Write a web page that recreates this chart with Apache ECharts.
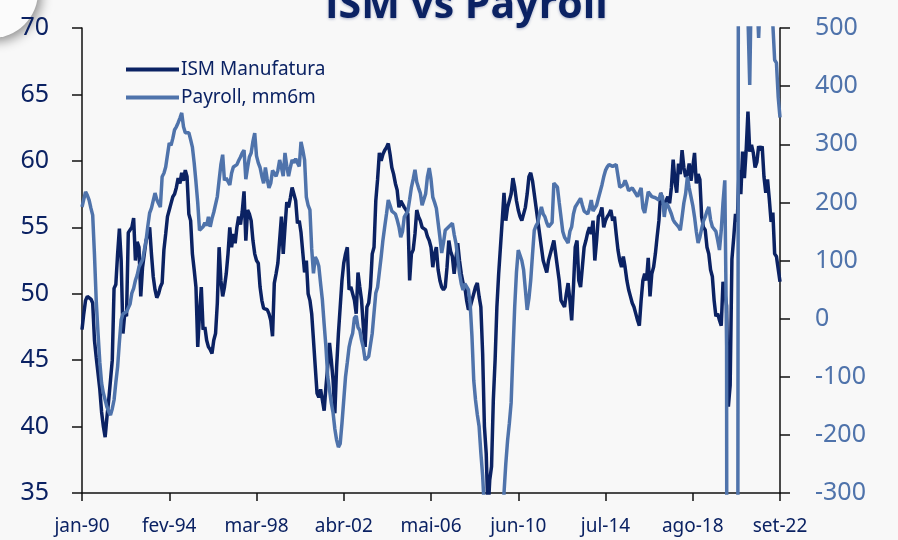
<!DOCTYPE html>
<html>
<head>
<meta charset="utf-8">
<script src="https://cdn.jsdelivr.net/npm/echarts@6/dist/echarts.min.js"></script>
<style>
  html, body { margin: 0; padding: 0; background: #f8f8f8; }
  #chart { width: 898px; height: 540px; }
</style>
</head>
<body>
<div id="chart"></div>
<script>
const firstYear = 1990;
const monthNames = ['jan', 'fev', 'mar', 'abr', 'mai', 'jun', 'jul', 'ago', 'set', 'out', 'nov', 'dez'];

// ISM manufacturing PMI, one row per year (jan..dez), 2022 ends in set
const ismByYear = [
  [47.3, 48.5, 49.5, 49.8, 49.8, 49.6, 49.3, 46.5, 45.2, 44.0, 42.8, 41.1],
  [40.0, 39.2, 40.7, 42.0, 43.5, 45.0, 50.4, 50.7, 53.0, 54.9, 52.5, 47.0],
  [48.5, 48.3, 54.6, 54.5, 55.0, 55.7, 52.5, 53.9, 53.5, 49.8, 52.0, 53.0],
  [54.0, 54.5, 55.0, 53.0, 51.3, 50.3, 49.7, 50.0, 50.5, 50.8, 53.3, 54.5],
  [55.8, 56.3, 56.8, 57.3, 57.5, 58.0, 58.7, 58.3, 59.1, 58.5, 59.3, 58.8],
  [56.0, 55.5, 53.0, 51.8, 50.5, 46.0, 48.5, 50.5, 47.3, 47.5, 46.5, 46.0],
  [45.8, 45.5, 46.5, 47.0, 49.3, 53.5, 51.0, 49.8, 50.5, 51.5, 53.0, 55.0],
  [53.5, 54.5, 53.8, 55.0, 55.8, 55.2, 56.2, 57.7, 54.0, 56.3, 56.0, 55.5],
  [54.0, 53.0, 52.5, 52.3, 50.5, 49.5, 48.9, 49.0, 48.8, 48.5, 48.0, 46.8],
  [50.8, 51.5, 52.3, 52.3, 55.8, 53.0, 55.0, 56.9, 56.5, 57.2, 58.0, 57.5],
  [57.0, 55.3, 55.5, 54.6, 54.5, 51.6, 52.5, 50.0, 49.5, 48.5, 46.5, 44.5],
  [42.5, 42.2, 42.8, 42.0, 41.2, 43.0, 44.5, 46.3, 45.0, 43.5, 41.0, 44.5],
  [47.0, 49.0, 51.0, 52.3, 53.0, 53.5, 50.3, 50.5, 50.5, 49.5, 48.5, 51.6],
  [50.5, 49.5, 47.5, 46.0, 49.0, 49.3, 50.5, 53.0, 53.5, 57.0, 58.6, 60.6],
  [60.0, 60.5, 60.8, 61.0, 61.3, 60.5, 59.5, 59.0, 58.3, 57.8, 56.5, 57.0],
  [57.0, 56.5, 56.3, 56.0, 51.0, 53.0, 53.3, 54.5, 56.3, 55.8, 55.5, 55.0],
  [55.0, 54.8, 54.3, 54.0, 53.5, 52.0, 53.0, 53.5, 51.8, 51.0, 50.5, 50.3],
  [50.5, 52.0, 54.0, 53.2, 52.8, 51.5, 51.5, 53.8, 52.5, 51.5, 50.8, 50.5],
  [49.5, 48.8, 49.0, 49.5, 50.0, 50.5, 50.8, 49.8, 49.0, 45.5, 40.0, 38.0],
  [33.5, 36.0, 37.0, 42.0, 45.0, 49.0, 51.5, 53.5, 55.5, 57.6, 55.5, 56.5],
  [57.0, 57.5, 58.7, 58.0, 57.0, 56.3, 55.8, 55.5, 55.4, 56.5, 57.5, 58.8],
  [59.1, 58.5, 57.5, 56.5, 56.5, 54.5, 53.5, 52.5, 52.5, 51.6, 52.5, 53.0],
  [53.5, 54.0, 53.0, 52.0, 51.0, 49.5, 49.5, 49.0, 50.0, 50.8, 49.5, 48.0],
  [50.5, 53.5, 54.0, 51.0, 50.5, 52.0, 53.5, 54.0, 54.6, 55.0, 54.5, 55.5],
  [52.5, 54.0, 55.8, 56.0, 56.5, 55.0, 55.5, 55.8, 56.0, 56.3, 55.5, 55.8],
  [54.5, 53.3, 52.5, 52.0, 52.8, 52.0, 51.0, 50.3, 49.8, 49.3, 49.0, 48.5],
  [48.0, 47.6, 49.5, 51.0, 51.5, 51.0, 52.7, 49.8, 51.5, 52.0, 53.0, 54.3],
  [55.5, 57.6, 57.0, 56.5, 57.0, 57.3, 56.8, 58.0, 60.1, 58.5, 57.6, 59.8],
  [59.0, 60.8, 59.5, 58.8, 59.0, 59.8, 58.5, 59.5, 60.6, 58.3, 59.0, 58.6],
  [55.8, 55.0, 54.8, 53.5, 53.0, 51.8, 51.3, 49.5, 48.3, 48.5, 48.0, 47.6],
  [50.9, 50.1, 49.1, 41.5, 43.1, 52.6, 54.2, 56.0, 55.4, 59.3, 57.5, 60.7],
  [58.7, 60.8, 63.7, 60.7, 61.2, 60.6, 59.5, 59.9, 61.1, 60.8, 61.1, 58.8],
  [57.6, 58.6, 57.1, 55.4, 56.1, 53.0, 52.8, 52.8, 50.9]
];

// Payroll, 6-month moving average of monthly change (thousands)
const payrollByYear = [
  [192, 205, 218, 212, 204, 190, 178, 110, 30, -25, -75, -111],
  [-128, -140, -152, -160, -166, -155, -140, -110, -83, -40, -2, 8],
  [10, 12, 10, 25, 44, 52, 66, 75, 89, 95, 101, 118],
  [135, 160, 182, 190, 192, 216, 205, 198, 192, 244, 250, 261],
  [261, 302, 298, 310, 325, 330, 337, 345, 354, 330, 320, 318],
  [320, 308, 295, 268, 235, 199, 152, 150, 158, 165, 160, 175],
  [158, 172, 183, 185, 210, 238, 265, 282, 238, 242, 245, 230],
  [250, 261, 262, 265, 272, 278, 285, 290, 240, 260, 278, 285],
  [305, 319, 280, 268, 260, 245, 233, 260, 240, 225, 233, 255],
  [250, 245, 255, 273, 260, 245, 285, 262, 245, 260, 273, 268],
  [275, 268, 262, 304, 290, 273, 209, 195, 187, 120, 78, 106],
  [100, 90, 60, 32, -10, -49, -100, -123, -145, -162, -190, -209],
  [-221, -215, -180, -140, -100, -75, -49, -35, -25, 1, 5, -15],
  [-20, -37, -50, -71, -68, -65, -45, -25, 10, 44, 54, 80],
  [106, 135, 158, 180, 204, 195, 185, 182, 180, 170, 158, 140],
  [150, 175, 180, 185, 205, 226, 240, 256, 235, 225, 216, 195],
  [195, 215, 244, 259, 240, 209, 200, 190, 165, 140, 113, 130],
  [152, 155, 158, 161, 164, 145, 130, 105, 78, 60, 49, 60],
  [55, 50, 25, -30, -106, -140, -165, -185, -231, -270, -330, -420],
  [-520, -600, -660, -700, -690, -650, -560, -470, -400, -300, -250, -210],
  [-180, -145, -60, 20, 80, 118, 118, 100, 84, 50, 15, 35],
  [66, 110, 152, 160, 165, 180, 192, 180, 175, 165, 158, 160],
  [165, 233, 230, 226, 200, 175, 150, 140, 135, 130, 150, 158],
  [180, 192, 197, 200, 207, 195, 185, 182, 180, 190, 204, 185],
  [190, 195, 207, 209, 230, 244, 255, 261, 265, 268, 262, 261],
  [265, 262, 226, 228, 230, 238, 230, 220, 222, 225, 220, 215],
  [210, 209, 225, 190, 182, 200, 218, 215, 210, 212, 208, 206],
  [204, 215, 210, 175, 199, 195, 188, 180, 170, 165, 162, 158],
  [152, 175, 199, 215, 244, 225, 210, 195, 175, 150, 130, 140],
  [155, 168, 175, 185, 192, 170, 158, 160, 150, 135, 118, 152],
  [200, 238, -46, -3300, -2800, -2100, -1900, -1700, -1550, 1980, 1560, 740],
  [620, 560, 520, 402, 600, 620, 580, 560, 483, 560, 620, 640],
  [600, 620, 580, 560, 505, 445, 440, 381, 346]
];

const leftTicks = { min: 35, max: 70, step: 5 };
const rightTicks = { min: -300, max: 500, step: 100 };
const labelEvery = 49; // jan-90, fev-94, mar-98 ...

const ism = ismByYear.flat();
const payroll = payrollByYear.flat();
const months = ism.map((_, i) => {
  const y = firstYear + Math.floor(i / 12);
  return monthNames[i % 12] + '-' + String(y).slice(2);
});

const navy = '#0b2263';
const steel = '#4f73ab';
const font = 'Noto Sans';

const chart = echarts.init(document.getElementById('chart'));
chart.setOption({
  backgroundColor: '#f8f8f8',
  animation: false,
  textStyle: { fontFamily: font },
  title: {
    text: 'ISM vs Payroll',
    left: 320,
    top: -19,
    textStyle: { color: navy, fontSize: 41, fontWeight: 'bold', fontFamily: 'Open Sans',
      textShadowColor: 'rgba(20,40,110,0.35)', textShadowBlur: 3, textShadowOffsetY: 1 }
  },
  graphic: [{
    type: 'circle',
    shape: { cx: -8, cy: -8, r: 46 },
    style: { fill: '#fbfbfb', shadowBlur: 12, shadowOffsetX: 3, shadowOffsetY: 3, shadowColor: 'rgba(0,0,0,0.45)' },
    z: 0
  }],
  legend: {
    orient: 'vertical',
    left: 121,
    top: 55,
    itemGap: 9,
    itemWidth: 53,
    itemHeight: 4,
    icon: 'rect',
    textStyle: { color: navy, fontSize: 19, fontFamily: font, padding: [0, 0, 0, -3] },
    data: ['ISM Manufatura', 'Payroll, mm6m']
  },
  grid: { left: 82, right: 118, top: 28, bottom: 47 },
  xAxis: {
    type: 'category',
    data: months,
    boundaryGap: false,
    axisLine: { onZero: false, lineStyle: { color: '#111', width: 1.5 } },
    axisTick: { interval: labelEvery - 1, length: 8, lineStyle: { color: '#111', width: 1.5 } },
    axisLabel: { interval: labelEvery - 1, color: navy, fontSize: 19, margin: 24 },
    splitLine: { show: false }
  },
  yAxis: [{
    type: 'value',
    min: leftTicks.min, max: leftTicks.max, interval: leftTicks.step,
    axisLine: { show: true, lineStyle: { color: '#111', width: 1.5 } },
    axisTick: { show: true, length: 10, lineStyle: { color: '#111', width: 1.5 } },
    axisLabel: { color: navy, fontSize: 25, margin: 33 },
    splitLine: { show: false }
  }, {
    type: 'value',
    position: 'right',
    min: rightTicks.min, max: rightTicks.max, interval: rightTicks.step,
    axisLine: { show: true, lineStyle: { color: '#111', width: 1.5 } },
    axisTick: { show: true, length: 10, lineStyle: { color: '#111', width: 1.5 } },
    axisLabel: { color: steel, fontSize: 25, margin: 35 },
    splitLine: { show: false }
  }],
  series: [{
    name: 'ISM Manufatura',
    type: 'line',
    yAxisIndex: 0,
    data: ism,
    showSymbol: false,
    clip: true,
    z: 2,
    itemStyle: { color: navy },
    lineStyle: { color: navy, width: 3.5 }
  }, {
    name: 'Payroll, mm6m',
    type: 'line',
    yAxisIndex: 1,
    data: payroll,
    showSymbol: false,
    clip: true,
    z: 3,
    itemStyle: { color: steel },
    lineStyle: { color: steel, width: 3.5 }
  }]
});
</script>
</body>
</html>
